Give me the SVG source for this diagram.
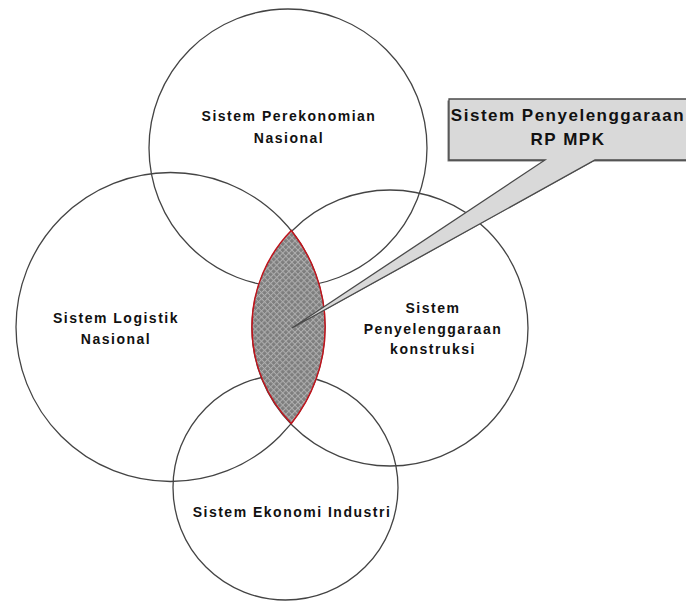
<svg xmlns="http://www.w3.org/2000/svg" width="686" height="602" viewBox="0 0 686 602">
<defs>
<pattern id="hatch" width="4.3" height="4.3" patternUnits="userSpaceOnUse" patternTransform="rotate(45)">
<rect width="4.3" height="4.3" fill="#7d7d7d"/>
<path d="M0 0.5H4.3M0.5 0V4.3" stroke="#adadad" stroke-width="1.1"/>
</pattern>
<style>
.c{fill:none;stroke:#444;stroke-width:1.3}
.t{font-family:"Liberation Sans",Arial,sans-serif;font-weight:bold;font-size:14px;letter-spacing:1.5px;fill:#111;text-anchor:middle}
.tc{font-family:"Liberation Sans",Arial,sans-serif;font-weight:bold;font-size:17px;letter-spacing:1.5px;fill:#111;text-anchor:middle}
</style>
</defs>
<rect width="686" height="602" fill="#fff"/>
<g id="perekonomian">
<circle class="c" cx="288" cy="148" r="139"/>
<text class="t" x="289" y="121">Sistem Perekonomian</text>
<text class="t" x="289" y="143">Nasional</text>
</g>
<g id="logistik">
<circle class="c" cx="170.5" cy="327" r="154.5"/>
<text class="t" x="116" y="323">Sistem Logistik</text>
<text class="t" x="116" y="344">Nasional</text>
</g>
<g id="konstruksi">
<circle class="c" cx="390" cy="328" r="138"/>
<text class="t" x="433" y="313">Sistem</text>
<text class="t" x="433" y="334">Penyelenggaraan</text>
<text class="t" x="433" y="354">konstruksi</text>
</g>
<g id="industri">
<circle class="c" cx="285.5" cy="487.5" r="112.5"/>
<text class="t" x="292" y="517">Sistem Ekonomi Industri</text>
</g>
<g id="irisan">
<path d="M291.3 230.5A154.5 154.5 0 0 1 291.3 423.5A138 138 0 0 1 291.3 230.5Z" fill="url(#hatch)" stroke="#c0141c" stroke-width="1.5"/>
</g>
<g id="connectors">
<path d="M449 99H692V160H595L292 328L545 160H449Z" fill="#777" stroke="none" transform="translate(-1.5,1.5)"/>
<path d="M449 99H692V160H595L292 328L545 160H449Z" fill="#d9d9d9" stroke="#4a4a4a" stroke-width="1.3"/>
</g>
<g id="rpmpk">
<text class="tc" x="568" y="121">Sistem Penyelenggaraan</text>
<text class="tc" x="568" y="145">RP MPK</text>
</g>
</svg>
